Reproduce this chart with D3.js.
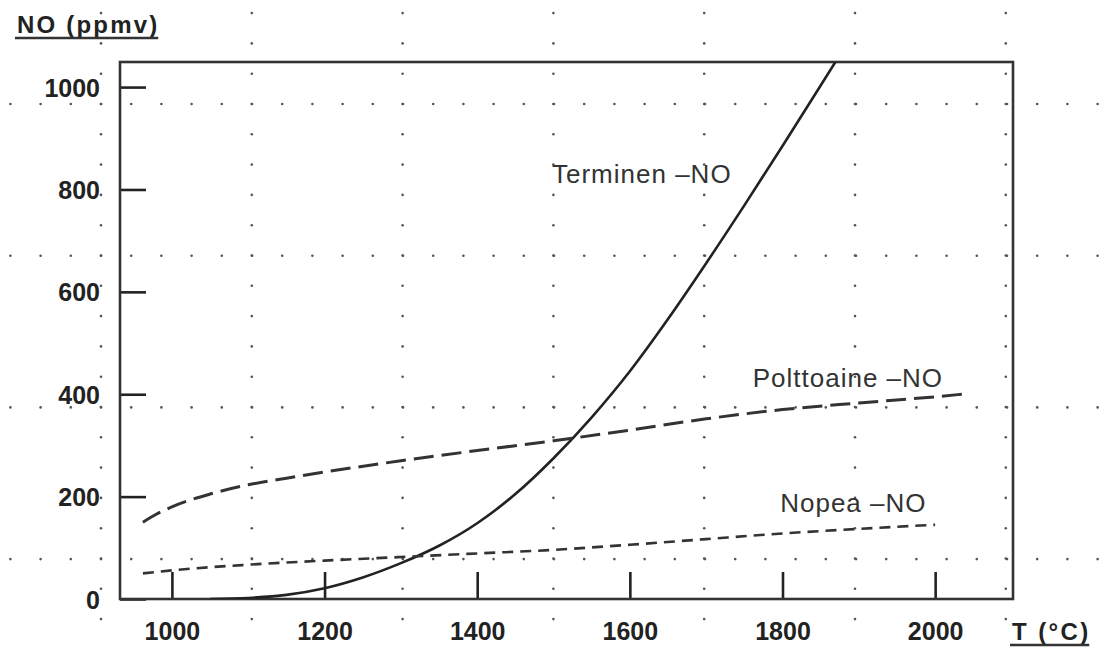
<!DOCTYPE html>
<html lang="fi">
<head>
  <meta charset="UTF-8" />
  <title>NO-pitoisuus lämpötilan funktiona</title>
  <script src="https://cdn.jsdelivr.net/npm/d3@7/dist/d3.min.js"></script>
  <style>
    body { margin: 0; background: #fff; }
    svg { display: block; font-family: "Liberation Sans", Arial, Helvetica, sans-serif; }
  </style>
</head>
<body>
  <svg id="chart" width="1102" height="648"></svg>

  <script>
    // Luettu kuvasta : lämpötila (°C) ja NO (ppmv)
    const termT  = [1050, 1100, 1150, 1200, 1250, 1300, 1350, 1400, 1450, 1500, 1550, 1600, 1650, 1700, 1750, 1800, 1850, 1900];
    const termNO = [0, 2, 8, 21, 42, 70, 104, 148, 205, 275, 355, 445, 547, 656, 769, 885, 1003, 1122];

    const polttoT  = [962, 980, 1000, 1050, 1100, 1150, 1200, 1300, 1400, 1500, 1600, 1700, 1800, 1900, 2000, 2035];
    const polttoNO = [150, 166, 180, 205, 223, 236, 248, 270, 290, 309, 330, 352, 370, 383, 395, 400];

    const nopeaT  = [962, 1000, 1100, 1200, 1300, 1400, 1500, 1600, 1700, 1800, 1900, 2000];
    const nopeaNO = [50, 56, 67, 75, 82, 89, 96, 106, 117, 128, 137, 145];

    const xTicks = [1000, 1200, 1400, 1600, 1800, 2000];
    const yTicks = [0, 200, 400, 600, 800, 1000];

    const svg = d3.select("#chart");
    const W = 1102, H = 648;

    const x = d3.scaleLinear().domain([932, 2102]).range([120, 1013]);
    const y = d3.scaleLinear().domain([0, 1049]).range([599, 62]);

    svg.append("rect").attr("width", W).attr("height", H).attr("fill", "#fff");

    // Millimetripaperin pisteet (taustaa, ei dataa)
    const paper = svg.append("g").attr("fill", "#555");
    const colX = d3.range(7).map(i => 101 + i * 150.8);
    const rowY = d3.range(4).map(i => 104 + i * 151.7);
    colX.forEach(cx => {
      d3.range(-3, 19).forEach(k => {
        const cy = 104 + k * 30.3;
        if (cy > 4 && cy < H) paper.append("circle").attr("cx", cx).attr("cy", cy).attr("r", 1.3);
      });
    });
    rowY.forEach(cy => {
      d3.range(-3, 34).forEach(k => {
        const cx = 101 + k * 30.2;
        if (cx > 4 && cx < W) paper.append("circle").attr("cx", cx).attr("cy", cy).attr("r", 1.3);
      });
    });

    // Rajaus
    svg.append("clipPath").attr("id", "plot")
      .append("rect")
      .attr("x", x.range()[0]).attr("y", y.range()[1])
      .attr("width", x.range()[1] - x.range()[0])
      .attr("height", y.range()[0] - y.range()[1]);

    // Akselit
    const fmt = d3.format("d");
    const yAxis = svg.append("g")
      .attr("transform", `translate(${x.range()[0]},0)`)
      .call(d3.axisLeft(y).tickValues(yTicks).tickFormat(fmt)
        .tickSizeInner(-26).tickSizeOuter(0).tickPadding(20));

    const xAxis = svg.append("g")
      .attr("transform", `translate(0,${y.range()[0]})`)
      .call(d3.axisBottom(x).tickValues(xTicks).tickFormat(fmt)
        .tickSizeInner(-27).tickSizeOuter(0).tickPadding(23));

    [yAxis, xAxis].forEach(a => {
      a.select(".domain").remove();
      a.attr("font-family", null).attr("font-size", null);
      a.selectAll(".tick line").attr("stroke", "#222").attr("stroke-width", 2.6);
      a.selectAll(".tick text")
        .attr("fill", "#222")
        .style("font-size", "25px")
        .style("font-weight", "bold");
    });
    yAxis.selectAll(".tick text").attr("dy", "0.36em");

    // Kehys
    svg.append("rect")
      .attr("x", x.range()[0]).attr("y", y.range()[1])
      .attr("width", x.range()[1] - x.range()[0])
      .attr("height", y.range()[0] - y.range()[1])
      .attr("fill", "none")
      .attr("stroke", "#333")
      .attr("stroke-width", 2.6);

    // Käyrät
    const line = d3.line()
      .x(d => x(d[0]))
      .y(d => y(d[1]))
      .curve(d3.curveMonotoneX);

    const curves = svg.append("g").attr("clip-path", "url(#plot)").attr("fill", "none");

    curves.append("path")
      .attr("d", line(d3.zip(termT, termNO)))
      .attr("stroke", "#222")
      .attr("stroke-width", 2.6);

    curves.append("path")
      .attr("d", line(d3.zip(polttoT, polttoNO)))
      .attr("stroke", "#333")
      .attr("stroke-width", 3)
      .attr("stroke-dasharray", "20 8");

    curves.append("path")
      .attr("d", line(d3.zip(nopeaT, nopeaNO)))
      .attr("stroke", "#333")
      .attr("stroke-width", 2.6)
      .attr("stroke-dasharray", "11 7");

    // Käyrien nimet
    const label = (t, v, txt) => svg.append("text")
      .attr("x", x(t)).attr("y", y(v))
      .attr("fill", "#333")
      .style("font-size", "26px")
      .style("letter-spacing", "1px")
      .text(txt);

    label(1498, 812, "Terminen –NO");
    label(1761, 414, "Polttoaine –NO");
    label(1797, 170, "Nopea –NO");

    // Akselien otsikot, alleviivattu
    const title = (px, py, size, spacing, txt) => {
      const t = svg.append("text")
        .attr("x", px).attr("y", py)
        .attr("fill", "#222")
        .style("font-size", size + "px")
        .style("font-weight", "bold")
        .style("letter-spacing", spacing + "px")
        .text(txt);
      const b = t.node().getBBox();
      svg.append("line")
        .attr("x1", b.x - 2).attr("x2", b.x + b.width - spacing + 1)
        .attr("y1", py + 5).attr("y2", py + 5)
        .attr("stroke", "#333")
        .attr("stroke-width", 2.6);
    };

    title(17, 33, 24, 2.2, "NO (ppmv)");
    title(1012, 640, 24, 2.4, "T (°C)");
  </script>
</body>
</html>
